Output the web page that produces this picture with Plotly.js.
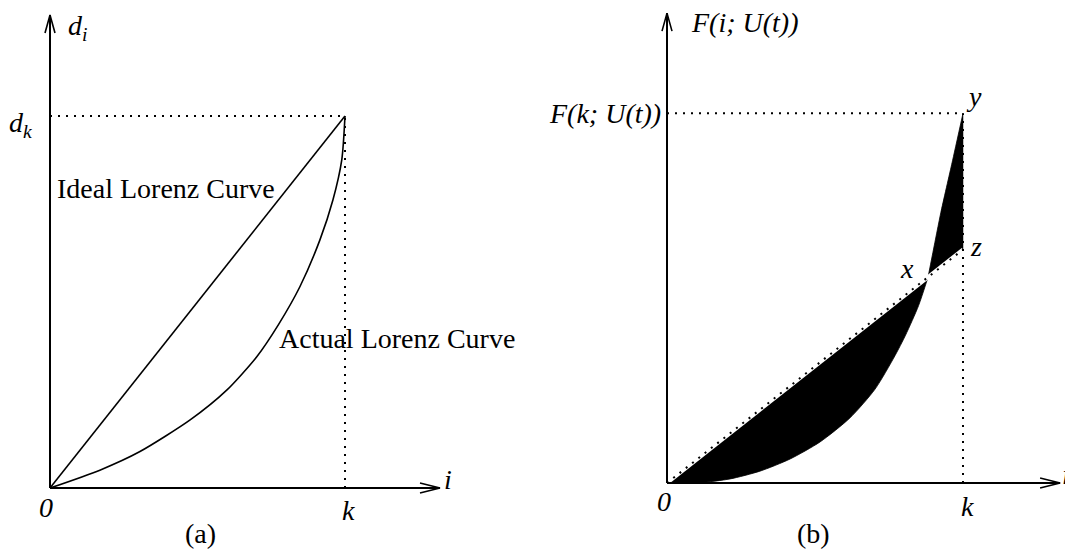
<!DOCTYPE html>
<html><head><meta charset="utf-8">
<script src="https://cdn.plot.ly/plotly-3.0.1.min.js"></script>
<style>html,body{margin:0;padding:0;background:#fff;}#chart{width:1065px;height:550px;}</style>
</head><body><div id="chart"></div>
<script>
// ---------- data (normalised units: k = 1, top level = 1) ----------
// Panel (a)
const idealA_x = [0, 1];
const idealA_y = [0, 1];
const actualA_x = [0, 0.169, 0.305, 0.475, 0.599, 0.701, 0.775, 0.847, 0.915, 0.959, 0.989, 1];
const actualA_y = [0, 0.048, 0.098, 0.183, 0.263, 0.353, 0.440, 0.541, 0.667, 0.774, 0.882, 1];
const axisTipA = [1.322, 1.2715];
// Panel (b)
const lowerB_x = [0, 0.111, 0.213, 0.314, 0.416, 0.517, 0.618, 0.703, 0.770, 0.806, 0.850, 0.882];
const lowerB_y = [0, 0.001, 0.011, 0.032, 0.065, 0.111, 0.176, 0.254, 0.344, 0.400, 0.480, 0.557];
const upperB_x = [0.882, 0.925, 0.963, 1];
const upperB_y = [0.557, 0.731, 0.866, 1];
const pointX = [0.882, 0.557];
const pointZ = [1, 0.6315];
const pointY = [1, 1];
const axisTipB = [1.328, 1.271];
// labels
const labelsA = {yAxis: '<i>d</i><sub><i>i</i></sub>', yLevel: '<i>d</i><sub><i>k</i></sub>', xAxis: '<i>i</i>', origin: '<i>0</i>', k: '<i>k</i>',
                 ideal: 'Ideal Lorenz Curve', actual: 'Actual Lorenz Curve', caption: '(a)'};
const labelsB = {yAxis: '<i>F(i; U(t))</i>', yLevel: '<i>F(k; U(t))</i>', xAxis: '<i>i</i>', origin: '<i>0</i>', k: '<i>k</i>',
                 x: '<i>x</i>', y: '<i>y</i>', z: '<i>z</i>', caption: '(b)'};

// ---------- geometry ----------
const W = 1065, H = 550;
const A = {ox: 50, oy: 488, sx: 295, sy: 372, d0: 0, d1: 0.5, xa: 'x', ya: 'y'};
const B = {ox: 667, oy: 483, sx: 296, sy: 369.7, d0: 0.5, d1: 1, xa: 'x2', ya: 'y2'};
function xr(p){ const left = p.d0*W, w = (p.d1-p.d0)*W; const r0 = -(p.ox-left)/p.sx; return [r0, r0 + w/p.sx]; }
function yr(p){ const r0 = -(H-p.oy)/p.sy; return [r0, r0 + H/p.sy]; }
function pd(p, px, py){ return [(px - p.ox)/p.sx, (p.oy - py)/p.sy]; }

const BLACK = '#000';
const DOT = '2px,6px';
const traces = [];
function line(p, xs, ys, opts){
  traces.push(Object.assign({type:'scatter', mode:'lines', x: xs, y: ys, xaxis: p.xa, yaxis: p.ya,
    hoverinfo:'skip', showlegend:false, line: {color: BLACK, width: 1.6}}, opts || {}));
}
function axes(p, tip){
  line(p, [0, tip[0]], [0, 0], {line:{color:BLACK, width:2}});
  line(p, [0, 0], [0, tip[1]], {line:{color:BLACK, width:2}});
  const L = 20, hw = 5, Ly = 18;
  line(p, [tip[0]-L/p.sx, tip[0], tip[0]-L/p.sx], [hw/p.sy, 0, -hw/p.sy], {line:{color:BLACK, width:1.6}});
  line(p, [-hw/p.sx, 0, hw/p.sx], [tip[1]-Ly/p.sy, tip[1], tip[1]-Ly/p.sy], {line:{color:BLACK, width:1.6}});
}

// ----- panel (a) -----
line(A, [0, idealA_x[1]], [idealA_y[1], idealA_y[1]], {line:{color:BLACK, width:2, dash:DOT}});
line(A, [idealA_x[1], idealA_x[1]], [0, idealA_y[1]], {line:{color:BLACK, width:2, dash:DOT}});
line(A, idealA_x, idealA_y);
line(A, actualA_x, actualA_y, {line:{color:BLACK, width:1.6, shape:'spline', smoothing:0.7}});
axes(A, axisTipA);

// ----- panel (b) -----
// lower filled lens: ideal line (0 -> x) and actual curve
line(B, [0, pointX[0]], [0, pointX[1]], {line:{color:BLACK, width:0.5}});
line(B, lowerB_x, lowerB_y, {fill:'tonexty', fillcolor:BLACK, line:{color:BLACK, width:0.8, shape:'spline', smoothing:0.7}});
// upper filled triangle: x -> z -> y and actual curve x -> y
line(B, [pointX[0], pointZ[0], pointY[0]], [pointX[1], pointZ[1], pointY[1]], {line:{color:BLACK, width:0.5}});
line(B, upperB_x, upperB_y, {fill:'tonexty', fillcolor:BLACK, line:{color:BLACK, width:0.8, shape:'spline', smoothing:0.5}});
// ideal line 0 -> z, dotted over a white strip
line(B, [0, pointZ[0]], [0, pointZ[1]], {line:{color:'#fff', width:4}});
line(B, [0, pointZ[0]], [0, pointZ[1]], {line:{color:BLACK, width:2, dash:DOT}});
// guide lines
line(B, [0, pointY[0]], [pointY[1], pointY[1]], {line:{color:BLACK, width:2, dash:DOT}});
line(B, [pointY[0], pointY[0]], [0, pointY[1]], {line:{color:BLACK, width:2, dash:DOT}});
axes(B, axisTipB);

// ---------- annotations ----------
const FONT = {family:'"Liberation Serif", "Times New Roman", serif', size:28, color:BLACK};
const ann = [];
function lab(p, text, x, y, xanchor, xshift, yshift){
  ann.push({xref:p.xa, yref:p.ya, x:x, y:y, text:text, showarrow:false, font:FONT,
    xanchor:xanchor, yanchor:'middle', xshift:xshift||0, yshift:yshift||0});
}
// (a)
lab(A, labelsA.yAxis, 0, axisTipA[1], 'left', 16, -12);
lab(A, labelsA.yLevel, 0, 1, 'right', -16, -8);
let q = pd(A, 55, 188); lab(A, labelsA.ideal, q[0], q[1], 'left');
q = pd(A, 277, 338); lab(A, labelsA.actual, q[0], q[1], 'left');
lab(A, labelsA.origin, 0, 0, 'center', -4, -19);
lab(A, labelsA.k, 1, 0, 'center', 3, -22);
lab(A, labelsA.xAxis, axisTipA[0], 0, 'left', 2, 9);
q = pd(A, 200, 533); lab(A, labelsA.caption, q[0], q[1], 'center');
// (b)
lab(B, labelsB.yAxis, 0, axisTipB[1], 'left', 22, -9);
lab(B, labelsB.yLevel, 0, 1, 'right', -4, 0);
lab(B, labelsB.origin, 0, 0, 'center', -3, -18);
lab(B, labelsB.k, 1, 0, 'center', 4, -23);
lab(B, labelsB.xAxis, axisTipB[0], 0, 'left', 0, 9);
lab(B, labelsB.y, pointY[0], pointY[1], 'center', 11, 17);
lab(B, labelsB.z, pointZ[0], pointZ[1], 'center', 13, 3);
lab(B, labelsB.x, pointX[0], pointX[1], 'center', -21, 9);
q = pd(B, 813, 533); lab(B, labelsB.caption, q[0], q[1], 'center');

function axisCfg(range, domain, anchor){
  return {range: range, domain: domain, anchor: anchor, visible:false, fixedrange:true,
    showgrid:false, zeroline:false, showticklabels:false};
}
const layout = {
  width: W, height: H, margin: {l:0, r:0, t:0, b:0, pad:0},
  paper_bgcolor:'#fff', plot_bgcolor:'#fff', showlegend:false,
  xaxis: axisCfg(xr(A), [A.d0, A.d1], 'y'),
  yaxis: axisCfg(yr(A), [0, 1], 'x'),
  xaxis2: axisCfg(xr(B), [B.d0, B.d1], 'y2'),
  yaxis2: axisCfg(yr(B), [0, 1], 'x2'),
  annotations: ann
};
Plotly.newPlot('chart', traces, layout, {staticPlot:true, displayModeBar:false});
</script>
</body></html>
